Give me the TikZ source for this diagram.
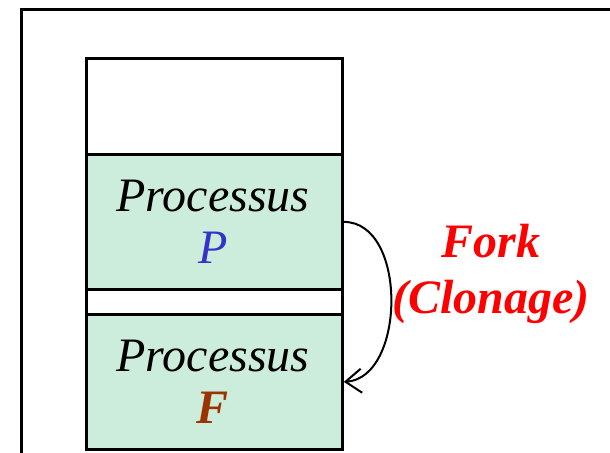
\documentclass[tikz,border=0pt]{standalone}
\usepackage{fontspec}
\setmainfont{Liberation Serif}
\usetikzlibrary{arrows.meta}

\definecolor{cellgreen}{RGB}{204,236,220}
\definecolor{pblue}{RGB}{51,51,204}
\definecolor{fbrown}{RGB}{153,51,0}

\tikzset{
  cell/.style={draw, line width=1.4pt, minimum width=128pt, inner sep=0pt, anchor=north west},
  label/.style={font=\fontsize{24}{28}\selectfont\itshape, align=center}
}

\begin{document}
\begin{tikzpicture}[x=0.5pt,y=-0.5pt]
    \useasboundingbox (0,0) rectangle (610,453);
    \draw[line width=1.5pt] (21,460) -- (21,10) -- (615,10); % outer frame
    \node[cell, minimum height=48pt] (free) at (85,57) {}; % empty slot
    \node[cell, fill=cellgreen, minimum height=67.5pt] (pbox) at (85,153) {}; % parent
    \node[cell, minimum height=12.5pt] (gap) at (85,288) {};
    \node[cell, fill=cellgreen, minimum height=67.5pt] (fbox) at (85,313) {}; % child
    \node[label] (ptext) at (213,222) {Processus\\[-2pt]\textcolor{pblue}{P}};
    \node[label] (ftext) at (213,382) {Processus\\[-2pt]\textcolor{fbrown}{\bfseries F}};
    \draw[line width=1pt, -{Straight Barb[length=8pt,width=12pt]}] (pbox.east) .. controls +(64,0) and +(62,-4) .. (fbox.east); % fork
    \node[label, text=red, font=\fontsize{24}{28}\selectfont\bfseries\itshape] (fork) at (491,274) {Fork\\(Clonage)};
  \end{tikzpicture}
\end{document}
